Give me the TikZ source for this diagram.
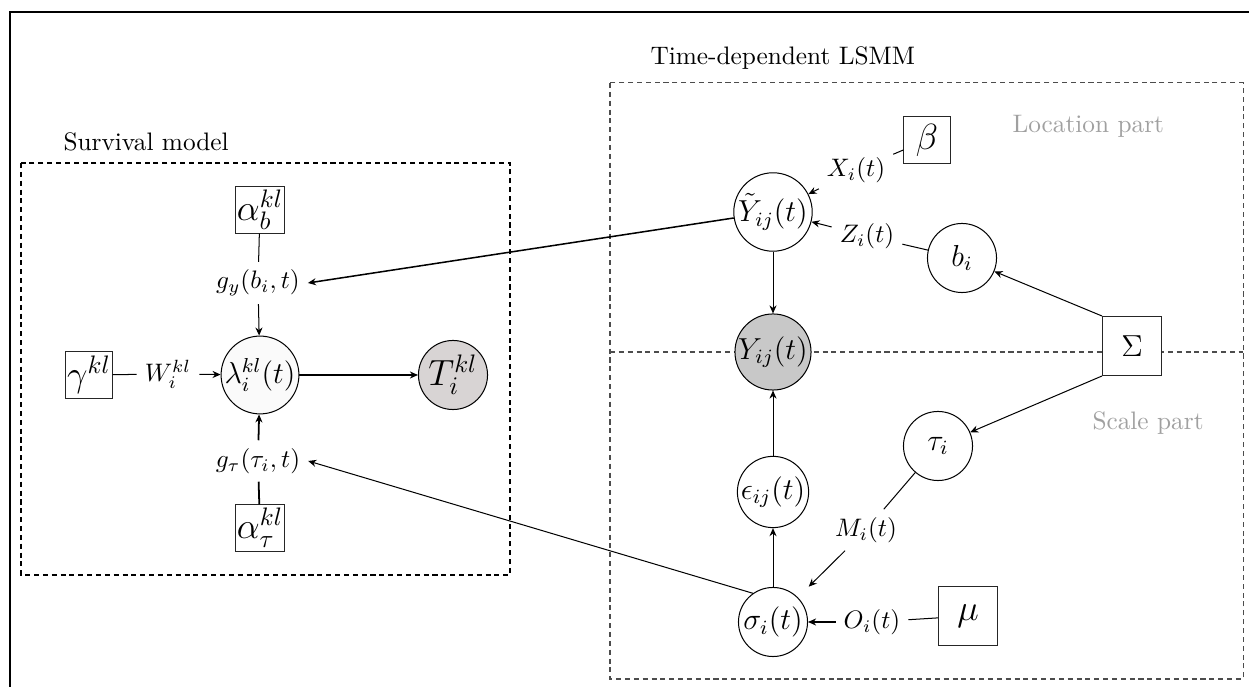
\documentclass[tikz,border=0pt]{standalone}
\usetikzlibrary{arrows.meta}
\definecolor{tfill}{HTML}{D8D4D4}
\definecolor{yfill}{HTML}{C8C8C8}
\definecolor{partgray}{HTML}{A0A0A0}
\begin{document}
\begin{tikzpicture}[x=0.3953pt,y=-0.3953pt,
  circ/.style={circle,draw,fill=white,minimum size=27.3pt,inner sep=0pt,font=\large},
  pbox/.style={rectangle,draw=black!85,fill=white,minimum size=18.2pt,inner sep=0.5pt,font=\Large},
  bbox/.style={rectangle,draw=black!85,fill=white,minimum size=23.3pt,inner sep=1pt},
  lab/.style={inner sep=3pt},
  arr/.style={-{Stealth[length=3.2pt,width=2.8pt]}},
  grp/.style={dash pattern=on 2pt off 1.5pt},
  parttxt/.style={text=partgray,anchor=base west,inner sep=0pt}]
\useasboundingbox (0,0) rectangle (1249,687);
% outer frame
\draw[line width=0.8pt] (10,687) -- (10,12) -- (1249,12);
% group boxes
\draw[grp,line width=0.5pt] (21,163) rectangle (510,575);
\draw[grp,draw=black!70] (610,83) rectangle (1243,679);
\draw[grp,draw=black!70] (610,352) -- (1243,352);
\node[anchor=base west,inner sep=0pt] (survt) at (63,151) {Survival model};
\node[anchor=base west,inner sep=0pt] (lsmmt) at (650,65) {Time-dependent LSMM};
\node[parttxt] (loct) at (1012,133) {Location part};
\node[parttxt] (scat) at (1092,430) {Scale part};
% survival model
\node[pbox] (ab) at (260,210) {$\alpha_b^{kl}$};
\node[lab] (gy) at (258,283) {$g_y(b_i,t)$};
\node[circ,fill=black!2] (lam) at (260,375) {$\lambda_i^{kl}(t)$};
\node[circ,fill=tfill,font=\Large] (T) at (453,375) {$T_i^{kl}$};
\node[pbox] (gam) at (89,375) {$\gamma^{kl}$};
\node[lab] (W) at (168,374) {$W_i^{kl}$};
\node[lab] (gt) at (258,461) {$g_\tau(\tau_i,t)$};
\node[pbox] (at) at (260,528) {$\alpha_\tau^{kl}$};
% LSMM
\node[circ] (Yt) at (773,212) {$\tilde{Y}_{ij}(t)$};
\node[circ,fill=yfill] (Y) at (773,352) {$Y_{ij}(t)$};
\node[circ] (eps) at (773,492) {$\epsilon_{ij}(t)$};
\node[circ] (sig) at (773,622) {$\sigma_i(t)$};
\node[pbox] (beta) at (927,140) {$\beta$};
\node[lab] (X) at (856,170) {$X_i(t)$};
\node[lab] (Z) at (867,236) {$Z_i(t)$};
\node[circ] (b) at (962,258) {$b_i$};
\node[bbox,font=\large] (Sig) at (1132,346) {$\Sigma$};
\node[circ] (tau) at (938,446) {$\tau_i$};
\node[lab] (M) at (866,530) {$M_i(t)$};
\node[lab] (O) at (872,622) {$O_i(t)$};
\node[bbox,font=\Large] (mu) at (968,616) {$\mu$};
% connectors survival
\draw (ab) -- (gy);
\draw[arr] (gy) -- (lam);
\draw (gam) -- (W);
\draw[arr] (W) -- (lam);
\draw[line width=0.7pt] (at) -- (gt);
\draw[arr,line width=0.7pt] (gt) -- (lam);
\draw[arr] (lam) -- (T);
% connectors LSMM
\draw (beta) -- (X);
\draw[arr] (X) -- (Yt);
\draw (b) -- (Z);
\draw[arr] (Z) -- (Yt);
\draw[arr] (Yt) -- (Y);
\draw[arr] (Sig.north west) -- (b);
\draw[arr] (Sig.south west) -- (tau);
\draw (tau) -- (M);
\draw[arr,shorten >=6pt] (M) -- (sig);
\draw (mu) -- (O);
\draw[arr] (O) -- (sig);
\draw[arr] (sig) -- (eps);
\draw[arr] (eps) -- (Y);
% cross connectors
\draw[arr,line width=0.6pt] (Yt) -- (gy.east);
\draw[arr] (sig.125) -- (gt.east);
\end{tikzpicture}
\end{document}
